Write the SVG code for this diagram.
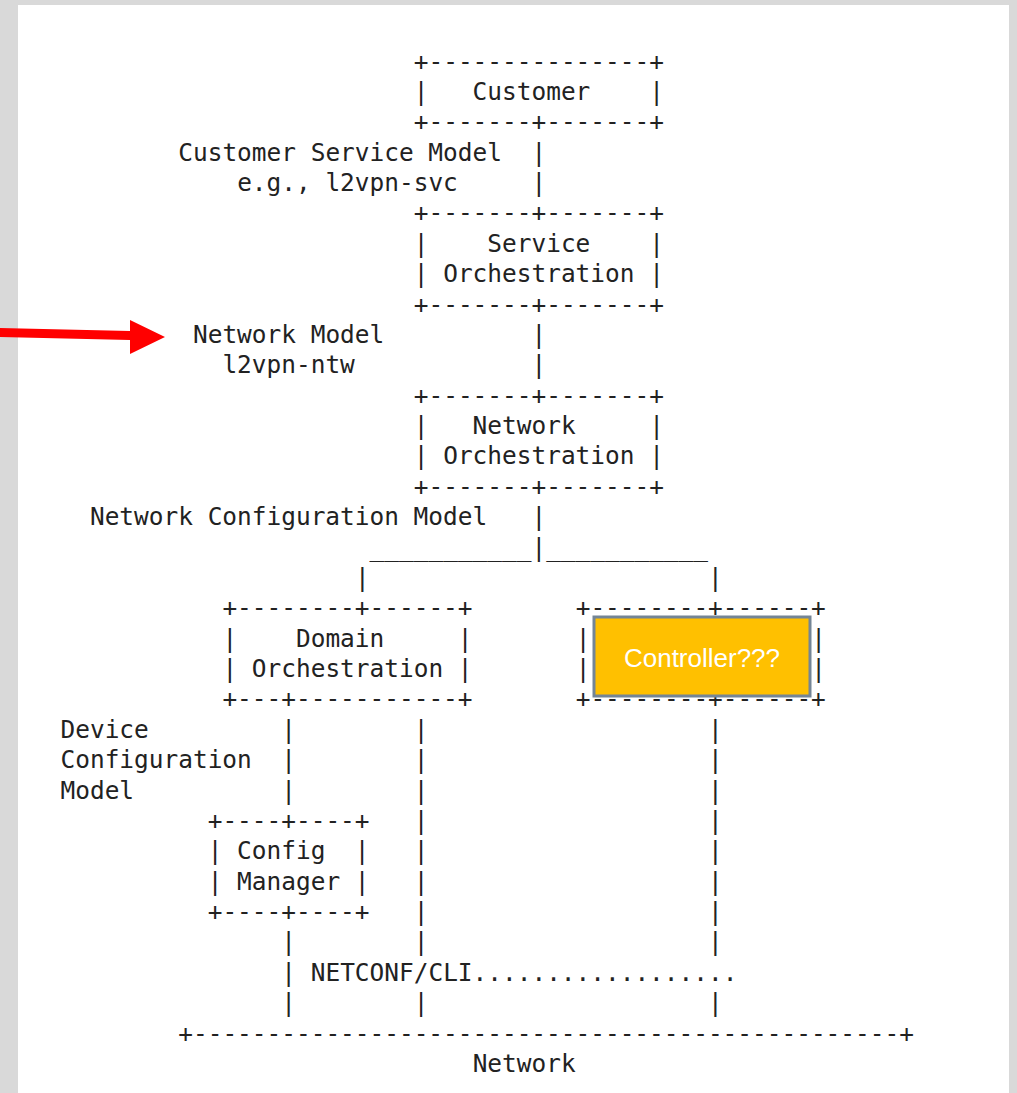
<svg xmlns="http://www.w3.org/2000/svg" width="1017" height="1093" viewBox="0 0 1017 1093" xml:space="preserve">
<style>
.m{font-family:"DejaVu Sans Mono","Liberation Mono",monospace;font-size:24.45px;fill:#222;white-space:pre}
.ctl{font-family:"Liberation Sans",Arial,sans-serif;font-size:26px;fill:#fff}
</style>
<rect x="0" y="0" width="1017" height="1093" fill="#d9d9d9"/>
<rect x="18" y="5" width="991" height="1088" fill="#fff"/>

<g id="customer">
<text class="m" x="413.78" y="69.6">+---------------+</text>
<text class="m" x="413.78" y="99.98">|   Customer    |</text>
<text class="m" x="413.78" y="130.35">+-------+-------+</text>
</g>

<g id="service-orchestration">
<text class="m" x="413.78" y="221.48">+-------+-------+</text>
<text class="m" x="413.78" y="251.85">|    Service    |</text>
<text class="m" x="413.78" y="282.23">| Orchestration |</text>
<text class="m" x="413.78" y="312.6">+-------+-------+</text>
</g>

<g id="network-orchestration">
<text class="m" x="413.78" y="403.73">+-------+-------+</text>
<text class="m" x="413.78" y="434.1">|   Network     |</text>
<text class="m" x="413.78" y="464.48">| Orchestration |</text>
<text class="m" x="413.78" y="494.85">+-------+-------+</text>
</g>

<g id="domain-orchestration">
<text class="m" x="222.42" y="616.35">+--------+------+</text>
<text class="m" x="222.42" y="646.73">|    Domain     |</text>
<text class="m" x="222.42" y="677.1">| Orchestration |</text>
<text class="m" x="222.42" y="707.48">+---+-----------+</text>
</g>

<g id="controller">
<text class="m" x="575.7" y="616.35">+--------+------+</text>
<text class="m" x="575.7" y="646.73">|</text>
<text class="m" x="811.22" y="646.73">|</text>
<text class="m" x="575.7" y="677.1">|</text>
<text class="m" x="811.22" y="677.1">|</text>
<text class="m" x="575.7" y="707.48">+--------+------+</text>
<rect x="594" y="617" width="216" height="79" fill="#ffc000" stroke="#748596" stroke-width="3"/>
<text class="ctl" x="702" y="667.3" text-anchor="middle">Controller???</text>
</g>

<g id="config-manager">
<text class="m" x="207.7" y="828.98">+----+----+</text>
<text class="m" x="207.7" y="859.35">| Config  |</text>
<text class="m" x="207.7" y="889.73">| Manager |</text>
<text class="m" x="207.7" y="920.1">+----+----+</text>
</g>

<g id="network">
<text class="m" x="178.26" y="1041.6">+------------------------------------------------+</text>
<text class="m" x="472.66" y="1071.98">Network</text>
</g>

<g id="connectors">
<text class="m" x="531.54" y="160.73">|</text>
<text class="m" x="531.54" y="191.1">|</text>
<text class="m" x="531.54" y="342.98">|</text>
<text class="m" x="531.54" y="373.35">|</text>
<text class="m" x="531.54" y="525.23">|</text>
<text class="m" x="369.62" y="555.6">___________|___________</text>
<text class="m" x="354.9" y="585.98">|                       |</text>
<text class="m" x="281.3" y="737.85">|        |                   |</text>
<text class="m" x="281.3" y="768.23">|        |                   |</text>
<text class="m" x="281.3" y="798.6">|        |                   |</text>
<text class="m" x="413.78" y="828.98">|                   |</text>
<text class="m" x="413.78" y="859.35">|                   |</text>
<text class="m" x="413.78" y="889.73">|                   |</text>
<text class="m" x="413.78" y="920.1">|                   |</text>
<text class="m" x="281.3" y="950.48">|        |                   |</text>
<text class="m" x="281.3" y="980.85">|</text>
<text class="m" x="281.3" y="1011.23">|        |                   |</text>
</g>

<g id="labels">
<text class="m" x="178.26" y="160.73">Customer Service Model</text>
<text class="m" x="237.14" y="191.1">e.g., l2vpn-svc</text>
<text class="m" x="192.98" y="342.98">Network Model</text>
<text class="m" x="222.42" y="373.35">l2vpn-ntw</text>
<text class="m" x="89.94" y="525.23">Network Configuration Model</text>
<text class="m" x="60.5" y="737.85">Device</text>
<text class="m" x="60.5" y="768.23">Configuration</text>
<text class="m" x="60.5" y="798.6">Model</text>
<text class="m" x="310.74" y="980.85">NETCONF/CLI..................</text>
</g>

<g id="red-arrow">
<polygon points="0,328 130,331 130,320 165,337 130,354 130,340 0,337" fill="#ff0000"/>
</g>
</svg>
